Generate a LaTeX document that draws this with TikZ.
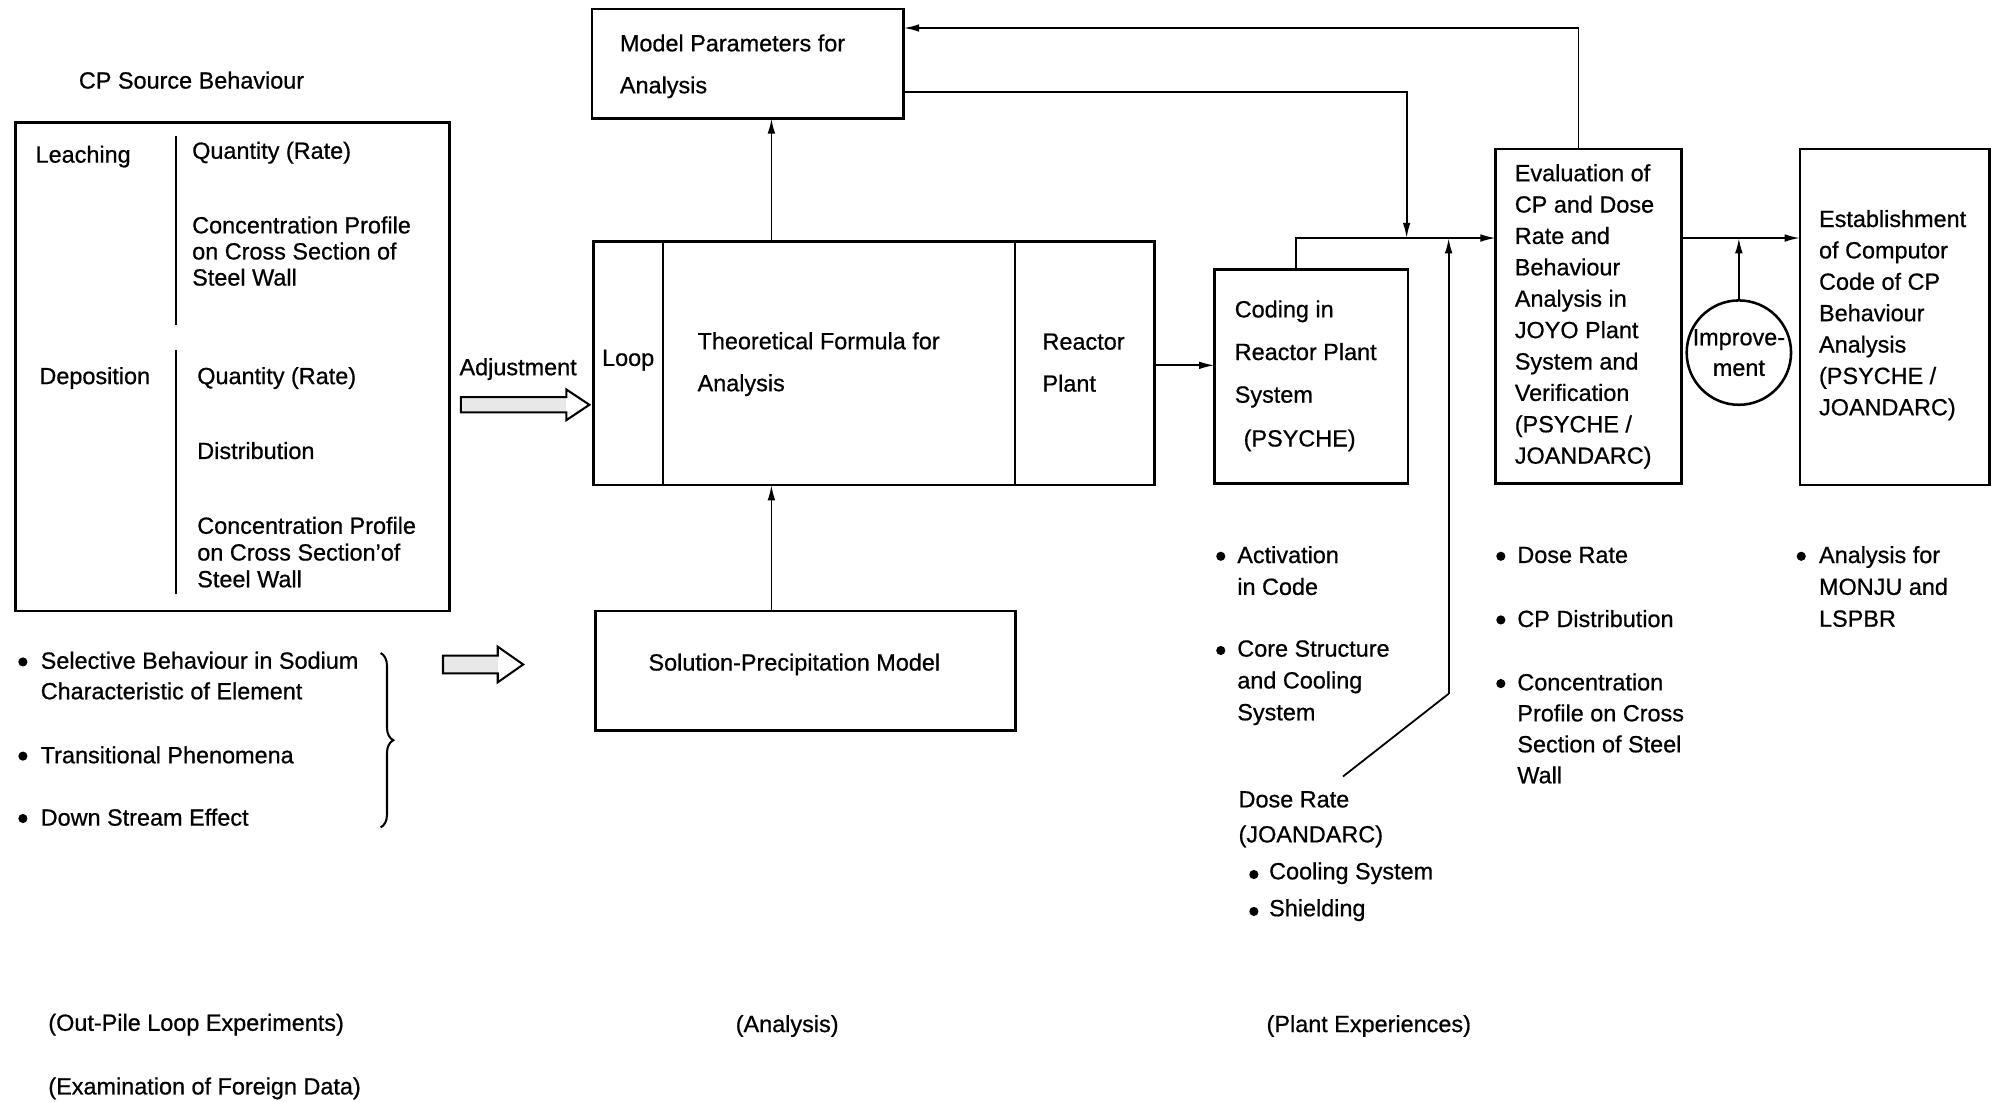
\documentclass[tikz,border=0pt]{standalone}
\usepackage{fontspec}
\setmainfont{Liberation Sans}[FakeBold=0.7]
\usetikzlibrary{arrows.meta,fit,decorations.pathreplacing}
\begin{document}
\begin{tikzpicture}[x=0.5pt,y=-0.5pt,
  every node/.style={inner sep=0pt, outer sep=0pt, font=\fontsize{9.2}{11}\selectfont},
  box/.style={draw, line width=1.1pt, inner sep=0pt},
  conn/.style={line width=0.7pt},
  arr/.style={conn, -{Latex[length=6pt,width=3pt]}},
  txt/.style={anchor=west},
  ml/.style={anchor=north west, align=left},
  bul/.style={circle, fill, minimum size=3.6pt, inner sep=0pt},
  hollow/.style={draw, line width=0.8pt},
]
\useasboundingbox (0,0) rectangle (1568,865);

% ---------- left column ----------
\node[txt] (cpsb) at (62,63) {CP Source Behaviour};
\node[box, fit={(12,96) (353,480)}] (src) {};
\draw[line width=0.8pt] (138,107) -- (138,255);
\draw[line width=0.8pt] (138,275) -- (138,467);
\node[txt] (leach) at (28,123) {Leaching};
\node[txt] (q1) at (151,120) {Quantity (Rate)};
\node[ml, font=\fontsize{9.2}{10.25}\selectfont] (cp1) at (151,170) {Concentration Profile\\on Cross Section of\\Steel Wall};
\node[txt] (depo) at (31,297) {Deposition};
\node[txt] (q2) at (155,297) {Quantity (Rate)};
\node[txt] (dist) at (155,354) {Distribution};
\node[ml, font=\fontsize{9.2}{10.5}\selectfont] (cp2) at (155,406) {Concentration Profile\\on Cross Section'of\\Steel Wall};

\node[txt] (adj) at (361,290) {Adjustment};
\fill[gray!18] (362,312) rectangle (445,324);
\draw[hollow] (362,312) -- (445,312) -- (445,306) -- (463,318) -- (445,330) -- (445,324) -- (362,324) -- cycle;

\node[bul] (b1) at (18,520) {};
\node[ml, font=\fontsize{9.2}{12}\selectfont] (sel) at (32,512) {Selective Behaviour in Sodium\\Characteristic of Element};
\node[bul] (b2) at (18,594) {};
\node[txt] (trans) at (32,593) {Transitional Phenomena};
\node[bul] (b3) at (18,643) {};
\node[txt] (down) at (32,642) {Down Stream Effect};
\draw[line width=0.8pt, decorate, decoration={brace, amplitude=5pt}] (299,513) -- (299,650);

\fill[gray!18] (348,515) rectangle (391,529);
\draw[hollow] (348,515) -- (391,515) -- (391,508) -- (411,522) -- (391,536) -- (391,529) -- (348,529) -- cycle;

% ---------- analysis column ----------
\node[box, fit={(465,7) (710,93)}] (mp) {};
\node[ml, font=\fontsize{9.2}{16.5}\selectfont] (mpt) at (487,27) {Model Parameters for\\Analysis};

\node[box, fit={(466,190) (907,381)}] (big) {};
\draw[line width=0.8pt] (521,190) -- (521,381);
\draw[line width=0.8pt] (797,190) -- (797,381);
\node[txt] (loop) at (473,283) {Loop};
\node[ml, font=\fontsize{9.2}{16.5}\selectfont] (theo) at (548,261) {Theoretical Formula for\\Analysis};
\node[ml, font=\fontsize{9.2}{16.5}\selectfont] (rp) at (819,262) {Reactor\\Plant};

\node[box, fit={(468,480) (798,574)}] (sol) {};
\node (solt) at (624,522) {Solution-Precipitation Model};

% ---------- plant column ----------
\node[box, fit={(954,212) (1106,380)}] (cod) {};
\node[ml, font=\fontsize{9.2}{16.75}\selectfont] (codt) at (970,236) {Coding in\\Reactor Plant\\System};
\node[txt] (psy) at (977,346) {(PSYCHE)};

\node[box, fit={(1175,117) (1321,380)}] (ev) {};
\node[ml, font=\fontsize{9.2}{12.33}\selectfont] (evt) at (1190,129) {Evaluation of\\CP and Dose\\Rate and\\Behaviour\\Analysis in\\JOYO Plant\\System and\\Verification\\(PSYCHE /\\JOANDARC)};

\node[circle, draw, line width=1pt, minimum size=41pt, align=center, font=\fontsize{9.2}{12}\selectfont] (imp) at (1366,277) {Improve-\\ment};

\node[box, fit={(1414,117) (1563,381)}] (es) {};
\node[ml, font=\fontsize{9.2}{12.33}\selectfont] (est) at (1429,165) {Establishment\\of Computor\\Code of CP\\Behaviour\\Analysis\\(PSYCHE /\\JOANDARC)};

\node[bul] (b4) at (959,437) {};
\node[ml, font=\fontsize{9.2}{12.5}\selectfont] (act) at (972,429) {Activation\\in Code};
\node[bul] (b5) at (959,511) {};
\node[ml, font=\fontsize{9.2}{12.5}\selectfont] (core) at (972,503) {Core Structure\\and Cooling\\System};

\node[txt] (dose) at (973,628) {Dose Rate};
\node[txt] (joan) at (973,657) {(JOANDARC)};
\node[bul] (b6) at (985,687) {};
\node[txt] (cool) at (997,686) {Cooling System};
\node[bul] (b7) at (985,716) {};
\node[txt] (shield) at (997,715) {Shielding};

\node[bul] (b8) at (1179,437) {};
\node[txt] (dr2) at (1192,436) {Dose Rate};
\node[bul] (b9) at (1179,487) {};
\node[txt] (cpd) at (1192,486) {CP Distribution};
\node[bul] (b10) at (1179,537) {};
\node[ml, font=\fontsize{9.2}{12.17}\selectfont] (conc3) at (1192,529) {Concentration\\Profile on Cross\\Section of Steel\\Wall};

\node[bul] (b11) at (1415,437) {};
\node[ml, font=\fontsize{9.2}{12.5}\selectfont] (monju) at (1429,429) {Analysis for\\MONJU and\\LSPBR};

% ---------- bottom labels ----------
\node[txt] (l1) at (38,805) {(Out-Pile Loop Experiments)};
\node[txt] (l2) at (38,855) {(Examination of Foreign Data)};
\node[txt] (l3) at (578,806) {(Analysis)};
\node[txt] (l4) at (995,806) {(Plant Experiences)};

% ---------- connectors ----------
\coordinate (c606) at (606,0);
\coordinate (c287) at (0,287);
\coordinate (c187) at (0,187);
\coordinate (c72) at (0,72);
\coordinate (c22) at (0,22);
\coordinate (c1018) at (1018,0);
\coordinate (c1240) at (1240,0);
\coordinate (j2) at (1105,187);
\coordinate (j3) at (1138,187);
\coordinate (dr) at (1138,545);
\coordinate (drl) at (1055,610);

\draw[arr] (big.north -| c606) -- (mp.south -| c606);
\draw[arr] (sol.north -| c606) -- (big.south -| c606);
\draw[arr] (big.east |- c287) -- (cod.west |- c287);
\draw[arr] (cod.north -| c1018) |- (ev.west |- c187);
\draw[arr] (mp.east |- c72) -| (j2);
\draw[arr] (dr) -- (j3);
\draw[conn] (dr) -- (drl);
\draw[arr] (ev.north -| c1240) |- (mp.east |- c22);
\draw[arr] (ev.east |- c187) -- (es.west |- c187);
\draw[arr] (imp.north) -- (imp.north |- c187);
\end{tikzpicture}
\end{document}
